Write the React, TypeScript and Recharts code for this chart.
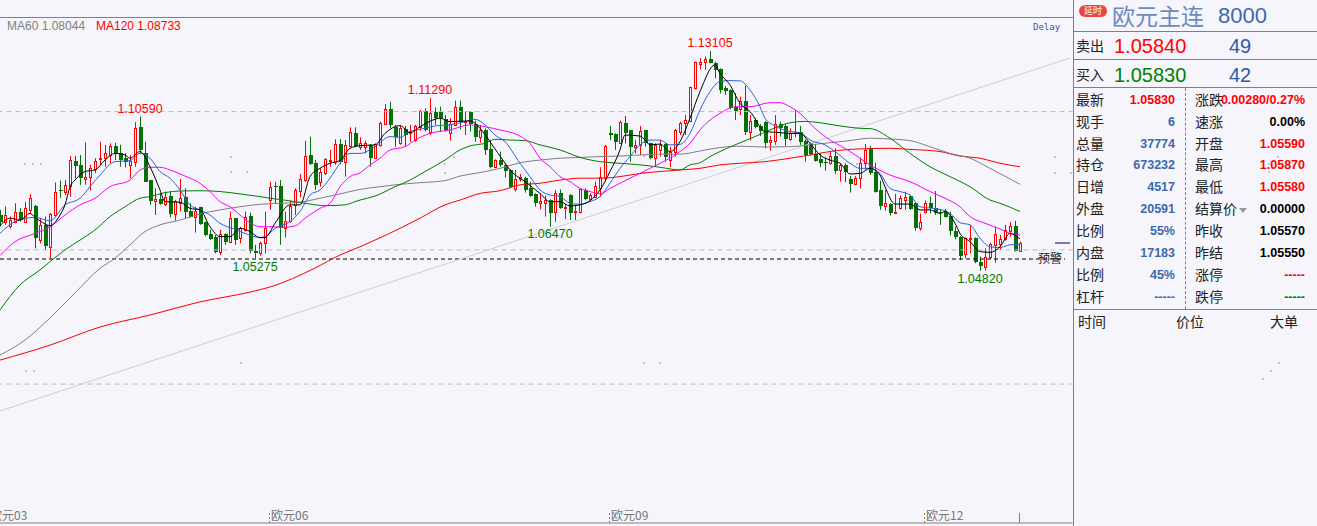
import React from "react";
import { ComposedChart, Bar, Line, XAxis, YAxis, ReferenceLine } from "recharts";

// All prices are in points above 1.0000 (1 point = 0.0001)
const opens = [692,667,649,667,705,667,711,724,599,655,571,692,786,780,799,895,880,828,834,865,901,907,917,951,926,905,880,892,1021,923,823,746,752,733,763,696,738,758,708,686,721,665,621,611,555,621,590,680,605,636,688,558,551,586,748,801,801,642,671,730,783,823,917,888,817,851,895,892,957,890,951,998,948,948,955,905,955,1032,1088,1021,961,1015,998,973,1023,1082,1005,1077,1080,1051,1001,1030,1096,1042,1080,1033,983,1011,938,871,898,880,861,788,826,830,792,771,738,738,748,702,773,717,767,702,705,786,752,761,792,830,998,996,963,1038,1011,946,955,1011,961,905,936,958,898,930,1005,1038,1046,1167,1258,1267,1277,1263,1238,1167,1161,1098,1088,1120,1005,1048,1026,1042,965,971,1033,1026,976,1000,1005,971,961,921,901,892,886,913,861,880,826,808,830,886,940,855,786,727,733,698,717,748,765,736,642,705,738,717,705,705,690,632,611,545,602,605,515,498,536,580,583,601,633,651,558];
const closes = [667,692,674,705,674,717,755,605,655,574,696,780,781,805,899,876,830,836,867,895,907,924,951,923,898,892,895,1017,936,817,746,752,733,761,696,745,755,705,686,708,658,617,602,552,621,592,680,598,642,686,558,548,588,645,798,796,642,671,727,786,826,914,883,805,855,901,898,957,892,955,1002,951,961,963,905,957,1036,1088,1030,983,1017,992,1005,1026,1082,1011,1073,1055,1055,1011,1033,1096,1042,1046,1033,983,1011,936,871,898,880,858,796,826,833,786,765,736,745,748,701,773,717,723,698,707,790,752,767,801,836,951,992,967,1042,1001,946,953,1007,961,905,955,955,911,930,1011,1038,1048,1171,1265,1267,1276,1263,1236,1161,1158,1092,1083,1121,1005,1046,1021,1008,961,973,1033,1017,976,1001,1005,967,917,921,896,888,886,913,858,880,855,807,830,888,936,848,780,726,736,701,705,755,758,713,642,665,738,717,698,698,686,632,608,538,605,605,515,501,536,583,621,603,636,651,558,588];
const highs = [711,724,686,736,717,742,771,730,680,686,699,814,821,823,914,914,917,964,880,905,967,955,961,963,955,924,917,1040,1061,967,823,792,773,780,780,749,827,792,736,723,723,667,636,617,636,623,705,680,648,705,701,580,592,705,817,817,823,705,746,792,846,970,986,898,867,905,936,976,977,973,1021,1021,983,971,958,961,1042,1108,1117,1030,1026,1026,1030,1030,1086,1092,1130,1096,1098,1067,1055,1121,1121,1080,1082,1046,1030,1017,973,901,930,886,863,861,846,836,817,773,773,765,751,786,788,733,770,730,792,792,773,817,871,955,1026,998,1046,1063,1011,973,1026,1011,963,961,973,961,948,1015,1042,1067,1173,1267,1280,1286,1307,1267,1242,1176,1163,1148,1136,1177,1067,1055,1033,1045,988,1067,1042,1033,1017,1086,1026,976,963,958,923,908,930,942,886,886,838,838,908,958,951,888,821,786,736,771,765,780,767,738,698,746,761,782,713,715,705,648,613,608,655,608,536,567,588,648,617,655,665,670,592];
const lows = [649,655,642,661,667,661,696,567,586,561,530,686,757,767,761,830,805,805,784,849,880,873,886,898,873,871,830,873,923,817,730,692,730,726,683,671,705,680,682,626,655,613,598,548,542,580,586,580,586,630,548,530,540,548,711,736,580,608,663,692,758,817,880,786,798,842,873,880,883,836,946,946,936,923,873,905,948,1030,1017,948,955,948,967,967,1008,1005,992,1030,1005,1005,971,1030,1013,992,1005,967,963,917,867,871,873,833,792,780,817,776,761,723,713,686,648,667,715,677,673,673,698,748,742,755,761,817,973,936,961,961,892,923,917,948,901,873,911,892,871,911,992,992,1042,1163,1238,1236,1261,1205,1148,1142,1088,1048,1067,992,971,1017,988,942,933,955,986,951,971,983,955,892,913,892,871,858,880,846,817,815,776,805,792,863,842,776,711,708,690,696,713,711,711,633,633,698,698,692,655,683,615,601,523,530,548,511,483,483,527,513,561,596,611,555,558];

const ma5: [number, number][] = [[0,651],[2,680],[4,673],[6,698],[7,683],[8,670],[10,652],[12,692],[13,730],[14,798],[15,823],[17,855],[19,861],[21,898],[23,923],[25,917],[26,905],[28,930],[30,873],[32,786],[33,742],[36,740],[38,717],[40,711],[42,648],[44,611],[46,611],[48,642],[50,630],[52,607],[53,607],[55,661],[58,730],[60,730],[62,836],[64,867],[66,886],[68,896],[70,942],[72,952],[75,955],[77,998],[80,1027],[82,1001],[84,1023],[87,1051],[88,1055],[90,1042],[94,1045],[96,1017],[98,967],[101,886],[102,861],[105,817],[108,773],[110,742],[112,742],[114,726],[116,730],[118,746],[120,786],[122,855],[124,936],[125,992],[128,988],[129,973],[130,955],[132,958],[134,930],[136,967],[138,1055],[140,1155],[143,1255],[144,1223],[146,1180],[148,1111],[150,1080],[153,1005],[156,1001],[158,998],[160,998],[162,961],[164,917],[166,898],[168,886],[170,846],[172,848],[174,867],[176,842],[177,798],[179,733],[182,733],[184,711],[186,711],[188,698],[189,705],[191,661],[192,623],[194,592],[196,555],[198,552],[200,573],[202,623],[204,602]];
const ma10: [number, number][] = [[0,623],[3,667],[7,683],[10,670],[13,730],[16,755],[18,798],[20,842],[23,892],[26,896],[28,923],[30,905],[32,855],[34,830],[36,786],[38,730],[40,711],[42,692],[44,661],[47,638],[49,623],[52,608],[53,611],[55,642],[58,667],[60,705],[62,767],[64,786],[66,830],[68,886],[70,923],[72,923],[75,948],[78,986],[80,983],[82,1005],[84,1013],[87,1026],[90,1030],[93,1042],[95,1051],[97,1030],[99,992],[101,967],[104,886],[106,836],[108,786],[110,767],[112,761],[114,736],[116,732],[118,742],[120,761],[122,811],[124,867],[126,911],[128,955],[130,973],[132,973],[134,955],[136,957],[138,998],[140,1086],[142,1155],[144,1192],[146,1196],[148,1195],[150,1161],[152,1098],[153,1055],[155,1026],[158,1005],[160,1001],[162,973],[165,955],[167,930],[170,886],[172,867],[174,867],[176,848],[178,792],[180,780],[182,767],[184,723],[188,713],[190,698],[192,663],[194,655],[196,605],[198,573],[200,570],[202,580],[204,582]];
const ma20: [number, number][] = [[0,540],[3,592],[7,623],[10,648],[13,692],[16,730],[19,755],[22,798],[26,823],[28,861],[30,871],[32,871],[34,861],[37,838],[40,811],[42,780],[44,742],[46,723],[48,692],[50,663],[52,648],[54,648],[57,646],[59,651],[61,680],[64,717],[66,736],[68,798],[70,836],[72,850],[74,880],[76,905],[78,936],[81,948],[83,973],[86,998],[90,1011],[94,1030],[97,1023],[100,1011],[104,988],[106,961],[108,905],[110,873],[112,836],[114,817],[116,792],[118,780],[120,771],[122,792],[124,811],[126,830],[128,848],[130,867],[132,886],[134,905],[136,930],[138,961],[140,1011],[142,1048],[144,1073],[147,1098],[150,1098],[154,1113],[156,1113],[158,1098],[160,1073],[163,1017],[166,973],[169,942],[172,905],[174,880],[178,842],[182,817],[186,780],[189,755],[192,723],[194,686],[197,661],[200,640],[202,623],[204,617]];
const ma40: [number, number][] = [[0,336],[4,430],[8,486],[10,517],[13,561],[16,598],[19,636],[22,686],[25,723],[28,755],[30,761],[33,776],[36,782],[40,783],[44,780],[48,771],[52,761],[54,755],[58,745],[62,733],[65,727],[69,730],[71,742],[72,748],[75,763],[79,798],[82,823],[85,855],[89,898],[92,936],[94,951],[97,961],[99,976],[102,973],[105,971],[108,955],[112,936],[116,908],[120,892],[124,886],[128,880],[132,871],[136,861],[138,880],[140,888],[142,911],[144,930],[147,955],[151,986],[154,1011],[158,1038],[161,1043],[164,1038],[168,1026],[172,1017],[174,1016],[178,980],[182,923],[186,873],[190,836],[194,798],[198,748],[200,736],[204,705]];
const ma60: [number, number][] = [[0,167],[5,223],[10,306],[15,400],[20,492],[23,530],[26,580],[29,630],[32,655],[36,673],[40,696],[44,711],[48,723],[52,732],[56,736],[60,740],[64,755],[68,771],[72,788],[76,798],[80,807],[84,813],[89,821],[92,838],[96,851],[100,867],[104,888],[108,898],[112,905],[116,908],[120,911],[124,913],[128,917],[132,920],[136,920],[140,932],[144,945],[148,950],[153,947],[158,948],[162,955],[166,963],[170,971],[174,980],[178,977],[182,971],[186,948],[190,923],[194,905],[198,867],[204,807]];
const ma120: [number, number][] = [[0,148],[10,204],[20,272],[30,317],[40,366],[50,403],[54,422],[63,493],[68,542],[72,573],[75,598],[80,642],[84,680],[89,730],[92,748],[96,773],[100,783],[104,805],[108,811],[112,823],[116,830],[120,830],[124,836],[128,848],[132,855],[136,861],[140,867],[144,880],[148,886],[153,892],[158,905],[162,917],[166,930],[172,940],[178,942],[182,938],[188,930],[192,913],[196,905],[200,886],[204,873]];
const trendLine: [number, number][] = [[0,-43],[214,1281]];

const axisTicks = [0, 54, 122, 185, 204];
const axisLabels = ["欧元03", "欧元06", "欧元09", "欧元12", ""];
const SLOTS = 215;

const peakLabels = [
  { text: "1.10590", x: 140, y: 109, color: "#ff0000" },
  { text: "1.11290", x: 430, y: 90, color: "#ff0000" },
  { text: "1.13105", x: 710, y: 43, color: "#ff0000" },
  { text: "1.05275", x: 255, y: 267, color: "#007a00" },
  { text: "1.06470", x: 550, y: 234, color: "#007a00" },
  { text: "1.04820", x: 980, y: 279, color: "#007a00" },
];

const leftLabels = ["最新", "现手", "总量", "持仓", "日增", "外盘", "比例", "内盘", "比例", "杠杆"];
const leftValues = ["1.05830", "6", "37774", "673232", "4517", "20591", "55%", "17183", "45%", "-----"];
const rightLabels = ["涨跌", "速涨", "开盘", "最高", "最低", "结算价", "昨收", "昨结", "涨停", "跌停"];
const rightValues = ["0.00280/0.27%", "0.00%", "1.05590", "1.05870", "1.05580", "0.00000", "1.05570", "1.05550", "-----", "-----"];
const rightColors = ["#ff0000", "#000000", "#ff0000", "#ff0000", "#ff0000", "#000000", "#000000", "#000000", "#ff0000", "#007a00"];

const specks = [[24,163],[32,163],[40,163],[25,370],[33,370],[230,156],[230,171],[246,171],[240,362],[453,156],[444,163],[444,172],[643,155],[643,172],[643,362],[659,362],[856,163],[1054,156],[1054,172],[1070,172],[1277,156],[1268,163],[1268,171],[1278,362],[1270,370],[1262,378]];

const rows: any[] = [];
for (let i = 0; i < SLOTS; i++) {
  rows.push({
    i,
    range: i < opens.length ? [lows[i], highs[i]] : undefined,
    open: opens[i],
    close: closes[i],
    high: highs[i],
    low: lows[i],
  });
}
const addSeries = (key: string, pts: [number, number][]) => {
  pts.forEach(([i, v]) => {
    rows[i][key] = v;
  });
};
addSeries("ma5", ma5);
addSeries("ma10", ma10);
addSeries("ma20", ma20);
addSeries("ma40", ma40);
addSeries("ma60", ma60);
addSeries("ma120", ma120);
addSeries("trend", trendLine);

const BG = "#f5f5fb";
const UP = "#ff0000";
const DOWN = "#067006";
const LATIN = "'Liberation Sans', Arial, sans-serif";
const CJK = "'Noto Sans CJK SC', sans-serif";

const Candle = (props: any) => {
  const { x, y, width, height, payload } = props;
  if (payload.range === undefined || !height) return null;
  const perUnit = height / (payload.high - payload.low);
  const yOf = (v: number) => y + (payload.high - v) * perUnit;
  const cx = Math.round(x + width / 2);
  const up = payload.close >= payload.open;
  const color = up ? UP : DOWN;
  const top = Math.round(yOf(Math.max(payload.open, payload.close)));
  const bottom = Math.round(yOf(Math.min(payload.open, payload.close)));
  return (
    <g>
      <line x1={cx + 0.5} x2={cx + 0.5} y1={y} y2={y + height} stroke={color} strokeWidth={1} />
      {up ? (
        <rect x={cx - 0.5} y={top + 0.5} width={2} height={Math.max(bottom - top, 1)} fill={BG} stroke={color} strokeWidth={1} />
      ) : (
        <rect x={cx - 1} y={top} width={4} height={Math.max(bottom - top, 1)} fill={color} />
      )}
    </g>
  );
};

const AxisTick = (props: any) => {
  const { x, payload } = props;
  const idx = axisTicks.indexOf(payload.value);
  const label = axisLabels[idx];
  const px = Math.round(x) - 1 + 0.5;
  return (
    <g>
      <line x1={px} x2={px} y1={513} y2={523} stroke="#808080" strokeWidth={1} strokeDasharray={label ? "2 2" : undefined} />
      {label ? (
        <text x={idx === 0 ? x - 10 : x + 1} y={520} fontSize={12} fontFamily={CJK} fill="#777">
          {label}
        </text>
      ) : null}
    </g>
  );
};

const T = (p: { x: number; y: number; s: number; c: string; w?: number; f?: string; right?: boolean; center?: boolean; children: any }) => {
  const h = Math.ceil(p.s * 1.6);
  return (
    <div
      style={{
        position: "absolute",
        left: p.right ? undefined : p.center ? p.x - 100 : p.x,
        right: p.right ? 1317 - p.x : undefined,
        width: p.center ? 200 : undefined,
        textAlign: p.center ? "center" : undefined,
        top: p.y - h / 2,
        height: h,
        lineHeight: h + "px",
        fontSize: p.s,
        color: p.c,
        fontWeight: p.w ?? 400,
        fontFamily: p.f ?? LATIN,
        whiteSpace: "nowrap",
      }}
    >
      {p.children}
    </div>
  );
};

const HLine = ({ x, y, w, c = "#808080" }: any) => <div style={{ position: "absolute", left: x, top: y, width: w, height: 1, background: c }} />;

const rowY = [99, 121, 143, 164, 186, 208, 230, 252, 274, 296];
const lineW = 1;

export default function App() {
  return (
    <div style={{ position: "absolute", left: 0, top: 0, width: 1317, height: 526, background: BG, overflow: "hidden" }}>
      {specks.map(([x, y], k) => (
        <div key={k} style={{ position: "absolute", left: x, top: y, width: 2, height: 2, background: "#c6c6cc" }} />
      ))}
      <ComposedChart
        width={1317}
        height={526}
        data={rows}
        margin={{ left: -2.5, right: 244.5, top: 18, bottom: 2 }}
        barCategoryGap={0}
        style={{ position: "absolute", left: 0, top: 0 }}
      >
        <XAxis
          dataKey="i"
          type="category"
          ticks={axisTicks}
          interval={0}
          height={1}
          tick={<AxisTick />}
          tickLine={false}
          axisLine={{ stroke: "#808080" }}
        />
        <YAxis hide domain={[-463, 1430.75]} allowDataOverflow />
        <ReferenceLine y={1080} stroke="#bdbdbd" strokeDasharray="5 4" />
        <ReferenceLine y={561} stroke="#bdbdbd" strokeDasharray="5 4" />
        <ReferenceLine y={58} stroke="#bdbdbd" strokeDasharray="5 4" />
        <ReferenceLine segment={[{ x: 0, y: 527 }, { x: 213, y: 527 }]} stroke="#000" strokeDasharray="4 3" />
        <ReferenceLine segment={[{ x: 211, y: 587 }, { x: 214, y: 587 }]} stroke="#000060" />
        <Line dataKey="trend" stroke="#cfcfc6" strokeWidth={1} dot={false} connectNulls isAnimationActive={false} />
        <Bar dataKey="range" barSize={5} shape={<Candle />} isAnimationActive={false} />
        <Line dataKey="ma120" type="monotone" stroke="#ff0000" strokeWidth={lineW} dot={false} connectNulls isAnimationActive={false} />
        <Line dataKey="ma60" type="monotone" stroke="#808080" strokeWidth={lineW} dot={false} connectNulls isAnimationActive={false} />
        <Line dataKey="ma40" type="monotone" stroke="#008000" strokeWidth={lineW} dot={false} connectNulls isAnimationActive={false} />
        <Line dataKey="ma20" type="monotone" stroke="#ff00ff" strokeWidth={lineW} dot={false} connectNulls isAnimationActive={false} />
        <Line dataKey="ma10" type="monotone" stroke="#2f62dc" strokeWidth={lineW} dot={false} connectNulls isAnimationActive={false} />
        <Line dataKey="ma5" type="monotone" stroke="#000000" strokeWidth={lineW} dot={false} connectNulls isAnimationActive={false} />
      </ComposedChart>

      <HLine x={0} y={17} w={1074} />
      <T x={7} y={26} s={12} c="#808080">MA60 1.08044</T>
      <T x={96} y={26} s={12} c="#ff0000">MA120 1.08733</T>
      <T x={1033} y={27} s={9} c="#2f5aa8" f="'DejaVu Sans Mono', monospace">Delay</T>
      {peakLabels.map((p) => (
        <T key={p.text} x={p.x} y={p.y} s={12.5} c={p.color} center>{p.text}</T>
      ))}
      <T x={1038} y={258} s={12} c="#222" f={CJK}>预警</T>

      {/* right-hand quote panel */}
      <div style={{ position: "absolute", left: 1073, top: 0, width: 1, height: 526, background: "#808080" }} />
      <div style={{ position: "absolute", left: 1079, top: 5, width: 28, height: 12, borderRadius: 6, background: "#e8473f", color: "#fff", fontSize: 9, lineHeight: "12px", textAlign: "center", fontFamily: CJK }}>延时</div>
      <T x={1112} y={15} s={23} c="#6a8cc0" f={CJK}>欧元主连</T>
      <T x={1218} y={16} s={22} c="#3d69ad">8000</T>
      <HLine x={1074} y={31} w={243} />
      <HLine x={1074} y={59} w={243} />
      <HLine x={1074} y={87} w={243} />
      <T x={1076} y={45} s={14} c="#222" f={CJK}>卖出</T>
      <T x={1114} y={46} s={20} c="#ff0000">1.05840</T>
      <T x={1229} y={46} s={20} c="#2f5aa8">49</T>
      <T x={1076} y={74} s={14} c="#222" f={CJK}>买入</T>
      <T x={1114} y={75} s={20} c="#008000">1.05830</T>
      <T x={1229} y={75} s={20} c="#2f5aa8">42</T>
      <div style={{ position: "absolute", left: 1185, top: 88, width: 0, height: 221, borderLeft: "1px dashed #808080" }} />
      {rowY.map((y, k) => (
        <React.Fragment key={k}>
          <T x={1076} y={y} s={14} c="#222" f={CJK}>{leftLabels[k]}</T>
          <T x={1175} y={y + 1} s={12.5} w={700} c={k === 0 ? "#ff0000" : "#3d69ad"} right>{leftValues[k]}</T>
          <T x={1195} y={y} s={14} c="#222" f={CJK}>{rightLabels[k]}</T>
          <T x={1305} y={y + 1} s={12.5} w={700} c={rightColors[k]} right>{rightValues[k]}</T>
        </React.Fragment>
      ))}
      <div style={{ position: "absolute", left: 1239, top: 208, width: 0, height: 0, borderLeft: "4px solid transparent", borderRight: "4px solid transparent", borderTop: "5px solid #999" }} />
      <HLine x={1074} y={309} w={243} />
      <T x={1078} y={321} s={14} c="#222" f={CJK}>时间</T>
      <T x={1176} y={321} s={14} c="#222" f={CJK}>价位</T>
      <T x={1270} y={321} s={14} c="#222" f={CJK}>大单</T>
    </div>
  );
}
